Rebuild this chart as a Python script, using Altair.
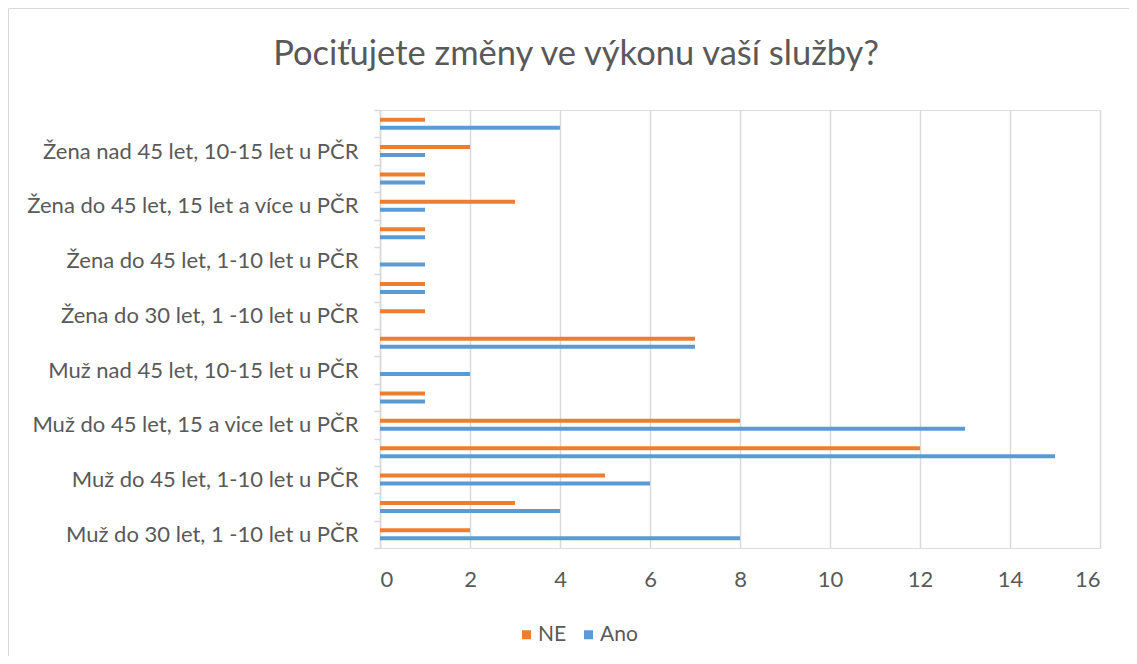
import altair as alt
import pandas as pd

# categories, bottom to top as in the reference
categories = [
    "Muž do 30 let, 1 -10 let u PČR",
    "Muž do 30 let, 10-15 let u PČR",
    "Muž do 45 let, 1-10 let u PČR",
    "Muž do 45 let, 10-15 let u PČR",
    "Muž do 45 let, 15 a vice let u  PČR",
    "Muž nad 45 let, 1-10 let u PČR",
    "Muž nad 45 let, 10-15 let u PČR",
    "Muž nad 45 let, 15 a více let u PČR",
    "Žena do 30 let, 1 -10 let u PČR",
    "Žena do 30 let, 10-15 let u PČR",
    "Žena do 45 let, 1-10 let u PČR",
    "Žena do 45 let, 10-15 let u PČR",
    "Žena do 45 let, 15 let a více u  PČR",
    "Žena nad 45 let, 1-10 let u PČR",
    "Žena nad 45 let, 10-15 let u PČR",
    "Žena nad 45 let, 15 let a více u PČR",
]
shown_labels = categories[0::2]

ne_values = [2, 3, 5, 12, 8, 1, 0, 7, 1, 1, 0, 1, 3, 1, 2, 1]
ano_values = [8, 4, 6, 15, 13, 1, 2, 7, 0, 1, 1, 1, 1, 1, 1, 4]

series = ["NE", "Ano"]
colors = ["#ED7D31", "#5B9BD5"]
title_text = "Pociťujete změny ve výkonu vaší služby?"

rows = []
for c, ne, ano in zip(categories, ne_values, ano_values):
    rows.append({"kategorie": c, "serie": "NE", "hodnota": ne})
    rows.append({"kategorie": c, "serie": "Ano", "hodnota": ano})
df = pd.DataFrame(rows)

FONT = "Lato"
GRAY = "#595959"

label_expr = "indexof(" + str(shown_labels).replace('"', "'") + ", datum.value) >= 0 ? datum.value : ''"

bars = alt.Chart(df).mark_bar(size=4).encode(
    x=alt.X("hodnota:Q",
            scale=alt.Scale(domain=[0, 16], nice=False),
            axis=alt.Axis(values=list(range(0, 17, 2)), title=None, domain=False,
                          ticks=False, grid=True, gridColor="#D9D9D9", gridWidth=1.5,
                          labelFont=FONT, labelFontSize=22, labelColor=GRAY,
                          labelPadding=21)),
    y=alt.Y("kategorie:N", sort=categories[::-1],
            scale=alt.Scale(paddingInner=0, paddingOuter=0),
            axis=alt.Axis(title=None, labelExpr=label_expr, tickBand="extent",
                          domainColor="#D9D9D9", domainWidth=1.5,
                          tickColor="#D9D9D9", tickWidth=1.5, tickSize=6,
                          labelFont=FONT, labelFontSize=22, labelColor=GRAY,
                          labelPadding=16, labelLimit=400, grid=False)),
    yOffset=alt.YOffset("serie:N", sort=series,
                        scale=alt.Scale(paddingInner=0.5, paddingOuter=0.96)),
    color=alt.Color("serie:N", sort=series,
                    scale=alt.Scale(domain=series, range=colors),
                    legend=alt.Legend(title=None, orient="none", direction="horizontal",
                                      legendX=136, legendY=514,
                                      symbolType="square", symbolSize=81,
                                      labelFont=FONT, labelFontSize=21, labelColor=GRAY,
                                      columnPadding=11, labelOffset=1)),
)

border = alt.Chart(pd.DataFrame({"b": [0]})).mark_rect(
    fill=None, stroke="#D9D9D9", strokeWidth=1
).encode(
    x=alt.value(-371.5), x2=alt.value(749.5),
    y=alt.value(-101.5), y2=alt.value(546.5),
)

title = alt.Chart(pd.DataFrame({"t": [title_text]})).mark_text(
    font=FONT, fontSize=34.5, color=GRAY, align="center", baseline="alphabetic"
).encode(
    text="t:N", x=alt.value(196), y=alt.value(-45),
)

chart = alt.layer(border, bars, title).properties(
    width=720, height=438,
    autosize=alt.AutoSizeParams(type="none"),
    padding={"left": 372, "top": 102, "right": 29, "bottom": 108},
).configure_view(stroke=None).configure(background="white")

chart.save("out.html", embed_options={"renderer": "svg", "actions": False})
